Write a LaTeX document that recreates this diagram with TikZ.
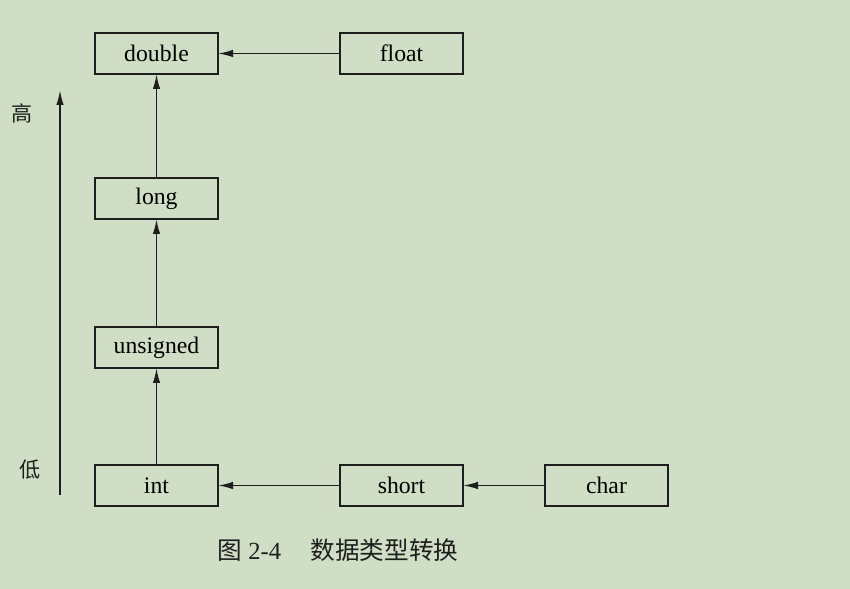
\documentclass[tikz,border=0pt]{standalone}
\usepackage{fontspec}
\setmainfont{Liberation Serif}
\newfontfamily\cjk{Noto Sans CJK SC}
\usetikzlibrary{arrows.meta,positioning,calc}
\definecolor{bgGreen}{RGB}{207,222,196}
\definecolor{inkGray}{RGB}{30,30,30}

\begin{document}
\begin{tikzpicture}[node distance=2cm,
    typebox/.style={rectangle,draw=inkGray,line width=1pt,outer sep=0pt,minimum width=2.46cm,minimum height=0.82cm,inner sep=0pt,font=\fontsize{13.5}{16}\selectfont},
    conv/.style={-{Latex[length=0.3cm,width=0.15cm]},draw=inkGray,line width=1pt}]
    \fill[bgGreen](0,0)rectangle(17,11.78);
    \useasboundingbox(0,0)rectangle(17,11.78);
    % type ranks, low to high
    \node[typebox](int) at (3.13,2.07){int};
    \node[typebox](unsigned)[above=1.94cm of int]{unsigned};
    \node[typebox](long)[above=2.16cm of unsigned]{long};
    \node[typebox](double)[above=2.08cm of long]{double};
    \node[typebox](float)[right=2.44cm of double]{float};
    \node[typebox](short)[right=2.44cm of int]{short};
    \node[typebox](char)[right=1.64cm of short]{char};
    \path(float)edge[conv](double);
    \path(long)edge[conv](double);
    \path(unsigned)edge[conv](long);
    \path(int)edge[conv](unsigned);
    \path(short)edge[conv](int);
    \path(char)edge[conv](short);
    % rank axis
    \coordinate(lo) at (1.2,1.88);
    \coordinate(hi) at (1.2,9.98);
    \draw[conv](lo)--(hi);
    \node[font=\cjk\fontsize{12}{14}\selectfont,text=inkGray](gao) at (0.44,9.52){高};
    \node[font=\cjk\fontsize{12}{14}\selectfont,text=inkGray](di) at (0.6,2.38){低};
    \node[font=\fontsize{14}{16}\selectfont,text=inkGray](caption) at (6.76,0.78){{\cjk 图} 2-4\hspace{1.2em}{\cjk 数据类型转换}};
     \end{tikzpicture}
\end{document}
